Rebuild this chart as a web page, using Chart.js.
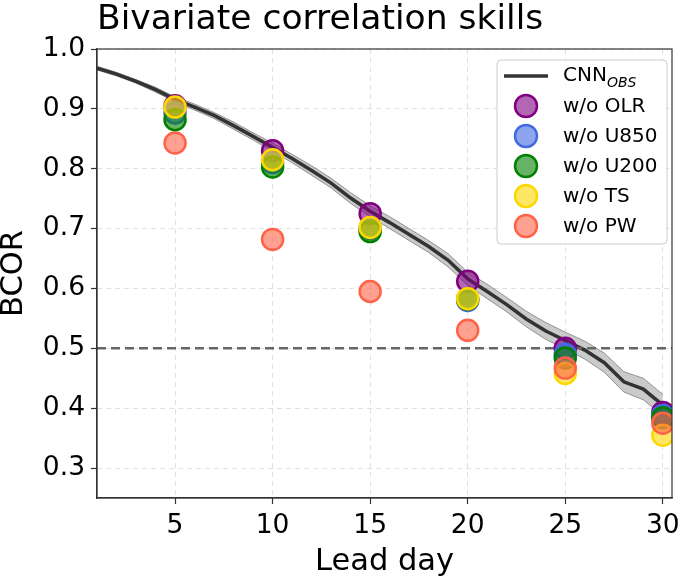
<!DOCTYPE html>
<html>
<head>
<meta charset="utf-8">
<script src="https://cdn.jsdelivr.net/npm/chart.js@4/dist/chart.umd.min.js"></script>
<style>
html,body{margin:0;padding:0;background:#fff;}
#wrap{width:685px;height:581px;position:relative;}
</style>
</head>
<body>
<div id="wrap"><canvas id="c" width="685" height="581"></canvas></div>
<script>
// ---- data ----
const leadDays = [1,2,3,4,5,6,7,8,9,10,11,12,13,14,15,16,17,18,19,20,21,22,23,24,25,26,27,28,29,30];
const cnnObs   = [0.968,0.958,0.946,0.932,0.916,0.903,0.889,0.872,0.854,0.836,0.817,0.797,0.776,0.751,0.729,0.710,0.690,0.670,0.647,0.616,0.595,0.573,0.549,0.529,0.513,0.497,0.476,0.444,0.432,0.405];
const cnnLow   = [0.965,0.955,0.943,0.928,0.912,0.898,0.884,0.866,0.848,0.829,0.810,0.789,0.768,0.742,0.720,0.700,0.680,0.660,0.636,0.605,0.583,0.561,0.536,0.515,0.499,0.482,0.460,0.427,0.414,0.387];
const cnnHigh  = [0.971,0.961,0.949,0.936,0.920,0.908,0.894,0.878,0.860,0.843,0.824,0.805,0.784,0.760,0.738,0.720,0.700,0.680,0.658,0.627,0.607,0.585,0.562,0.543,0.527,0.512,0.492,0.461,0.450,0.423];
const expDays  = [5,10,15,20,25,30];
const woOLR    = [0.905,0.830,0.725,0.612,0.500,0.393];
const woU850   = [0.893,0.810,0.700,0.580,0.490,0.388];
const woU200   = [0.882,0.803,0.695,0.582,0.484,0.384];
const woTS     = [0.903,0.815,0.702,0.583,0.458,0.355];
const woPW     = [0.843,0.682,0.595,0.530,0.467,0.375];
const xTicks   = [5,10,15,20,25,30];
const yTicks   = [0.3,0.4,0.5,0.6,0.7,0.8,0.9,1.0];
const threshold = 0.5;
const xRange = [1, 30.47];
const yRange = [0.25, 1.0];

const FONT = "'DejaVu Sans', sans-serif";
const pts = (xs, ys) => xs.map((x,i)=>({x:x, y:ys[i]}));

const expSeries = [
  {label:'w/o OLR',  data:woOLR,  fill:'rgba(128,0,128,0.6)',   edge:'#800080', order:5},
  {label:'w/o U850', data:woU850, fill:'rgba(65,105,225,0.6)',  edge:'#4169e1', order:4},
  {label:'w/o U200', data:woU200, fill:'rgba(0,128,0,0.6)',     edge:'#008000', order:3},
  {label:'w/o TS',   data:woTS,   fill:'rgba(255,215,0,0.6)',   edge:'#ffd700', order:2},
  {label:'w/o PW',   data:woPW,   fill:'rgba(255,99,71,0.6)',   edge:'#ff6347', order:1},
];

const datasets = [
  {label:'upper', data:pts(leadDays,cnnHigh), showLine:true, pointRadius:0, borderColor:'rgba(110,110,110,0.7)', borderWidth:1, fill:false, order:9},
  {label:'lower', data:pts(leadDays,cnnLow), showLine:true, pointRadius:0, borderColor:'rgba(110,110,110,0.7)', borderWidth:1, fill:'-1', backgroundColor:'rgba(128,128,128,0.42)', order:8},
  {label:'CNN', legendLine:true, data:pts(leadDays,cnnObs), showLine:true, pointRadius:0, borderColor:'#333333', borderWidth:3.5, fill:false, order:7},
  {label:'thr', data:pts(xRange,[threshold,threshold]), showLine:true, pointRadius:0, borderColor:'#666666', borderWidth:2.5, borderDash:[9,5], fill:false, order:6},
];
expSeries.forEach(s=>datasets.push({
  label:s.label, legendMarker:true, data:pts(expDays,s.data), showLine:false,
  pointRadius:10.5, pointBorderWidth:2.5, backgroundColor:s.fill, borderColor:s.edge,
  pointBackgroundColor:s.fill, pointBorderColor:s.edge, order:s.order
}));

const framePlugin = {
  id:'frame',
  afterDraw(chart){
    const {ctx, chartArea:a} = chart;
    ctx.save();
    ctx.strokeStyle='#333'; ctx.lineWidth=1.2;
    ctx.strokeRect(a.left, a.top, a.right-a.left, a.bottom-a.top);
    // title (left aligned with the axes)
    ctx.fillStyle='#000';
    ctx.font="34.5px "+FONT;
    ctx.textBaseline='alphabetic';
    ctx.textAlign='left';
    ctx.fillText('Bivariate correlation skills', a.left, 29);
    // legend
    const lx=497, ly=60, lw=170, lh=184;
    ctx.beginPath();
    if (ctx.roundRect) ctx.roundRect(lx,ly,lw,lh,4); else ctx.rect(lx,ly,lw,lh);
    ctx.fillStyle='rgba(255,255,255,0.85)'; ctx.fill();
    ctx.strokeStyle='#cccccc'; ctx.lineWidth=1; ctx.stroke();
    const textX=563;
    let y=76;
    ctx.font="20px "+FONT;
    ctx.textBaseline='middle';
    chart.data.datasets.forEach(ds=>{
      if(ds.legendLine){
        ctx.strokeStyle=ds.borderColor; ctx.lineWidth=ds.borderWidth;
        ctx.beginPath(); ctx.moveTo(504,y); ctx.lineTo(548,y); ctx.stroke();
        ctx.fillStyle='#000';
        ctx.font="20px "+FONT; ctx.fillText('CNN', textX, y);
        const w=ctx.measureText('CNN').width;
        ctx.font="italic 14px "+FONT; ctx.fillText('OBS', textX+w, y+7);
        ctx.font="20px "+FONT;
        y+=30;
      }
    });
    chart.data.datasets.forEach(ds=>{
      if(ds.legendMarker){
        ctx.beginPath(); ctx.arc(526,y,11,0,Math.PI*2);
        ctx.fillStyle=ds.pointBackgroundColor; ctx.fill();
        ctx.strokeStyle=ds.pointBorderColor; ctx.lineWidth=2.5; ctx.stroke();
        ctx.fillStyle='#000'; ctx.fillText(ds.label, textX, y+1);
        y+=30;
      }
    });
    ctx.restore();
  }
};

new Chart(document.getElementById('c'), {
  type:'scatter',
  data:{datasets},
  plugins:[framePlugin],
  options:{
    responsive:false, animation:false, devicePixelRatio:1,
    layout:{padding:{top:49,right:8,left:0,bottom:0}},
    plugins:{legend:{display:false}, tooltip:{enabled:false}, title:{display:false}},
    scales:{
      x:{
        type:'linear', min:xRange[0], max:xRange[1],
        afterBuildTicks(s){ s.ticks = xTicks.map(v=>({value:v})); },
        afterFit(s){ s.height = 83; s.paddingLeft = 0; s.paddingRight = 0; },
        ticks:{font:{family:FONT,size:26.5}, color:'#000', padding:6, maxRotation:0,
               callback:(v)=>String(v)},
        grid:{color:'#e0e0e0', lineWidth:1, tickColor:'#333', tickLength:6, tickWidth:1.2},
        border:{display:true, color:'#333', width:1.2, dash:[5,4]},
        title:{display:true, text:'Lead day', font:{family:FONT,size:30.5,lineHeight:0.9}, color:'#000', padding:{top:0,bottom:4.8}}
      },
      y:{
        type:'linear', min:yRange[0], max:yRange[1],
        afterBuildTicks(s){ s.ticks = yTicks.map(v=>({value:v})); },
        afterFit(s){ s.width = 97; s.paddingTop = 0; s.paddingBottom = 0; },
        ticks:{font:{family:FONT,size:26.5}, color:'#000', padding:6,
               callback:(v)=>Number(v).toFixed(1)},
        grid:{color:'#e0e0e0', lineWidth:1, tickColor:'#333', tickLength:6, tickWidth:1.2},
        border:{display:true, color:'#333', width:1.2, dash:[5,4]},
        title:{display:true, text:'BCOR', font:{family:FONT,size:30.5,lineHeight:0.9}, color:'#000', padding:{top:0,bottom:0}}
      }
    }
  }
});
</script>
</body>
</html>
